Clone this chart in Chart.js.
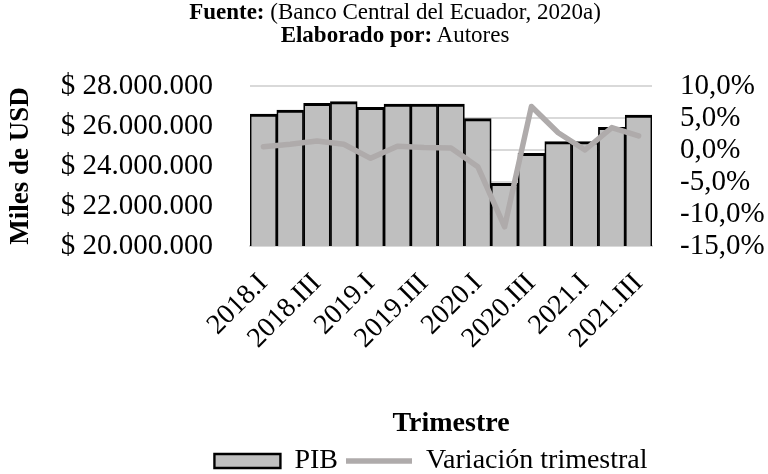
<!DOCTYPE html>
<html>
<head>
<meta charset="utf-8">
<script src="https://cdn.jsdelivr.net/npm/chart.js@4.4.0/dist/chart.umd.min.js"></script>
<style>
  html, body { margin: 0; padding: 0; background: #fff; }
  #wrap { position: relative; width: 768px; height: 474px; }
  #grafico { position: absolute; top: 0; left: 0; }
  #fuente {
    position: absolute; top: 0; left: 0; width: 768px;
    padding-left: 22px; box-sizing: border-box; text-align: center;
    font-family: 'Liberation Serif', serif; font-size: 23px; line-height: 23px; color: #000;
  }
</style>
</head>
<body>
<div id="wrap">
  <canvas id="grafico" width="768" height="474"></canvas>
  <div id="fuente"><b>Fuente:</b> (Banco Central del Ecuador, 2020a)<br><b>Elaborado por:</b> Autores</div>
</div>
<script>
// Trimestres del eje x
const trimestres = ['2018.I', '2018.II', '2018.III', '2018.IV',
                    '2019.I', '2019.II', '2019.III', '2019.IV',
                    '2020.I', '2020.II', '2020.III', '2020.IV',
                    '2021.I', '2021.II', '2021.III'];

// PIB en miles de USD
const pib = [26590000, 26800000, 27130000, 27220000,
             26930000, 27100000, 27100000, 27100000,
             26370000, 23130000, 24630000, 25220000,
             25220000, 25930000, 26550000];

// Variacion trimestral en %
const variacion = [0.5, 0.9, 1.4, 0.9,
                   -1.3, 0.6, 0.4, 0.3,
                   -2.6, -12.0, 6.8, 2.7,
                   0.0, 3.5, 2.2];

// Marcas de los ejes
const ticksPib = [20000000, 22000000, 24000000, 26000000, 28000000];
const ticksVariacion = [-15, -10, -5, 0, 5, 10];

const FUENTE = "'Liberation Serif', serif";
Chart.defaults.font.family = FUENTE;
Chart.defaults.color = '#000';

function formatoMiles(v) {
    return '$ ' + String(v).replace(/\B(?=(\d{3})+(?!\d))/g, '.');
}

function formatoPorcentaje(v) {
    return v.toFixed(1).replace('.', ',') + '%';
}

// la leyenda del original no esta centrada en el lienzo
const moverLeyenda = {
    id: 'moverLeyenda',
    afterLayout(chart) {
        const l = chart.legend;
        l.left += 47;
        l.right += 47;
        l.top += 11;
        l.bottom += 11;
    }
};

const canvas = document.getElementById('grafico');

new Chart(canvas, {
    type: 'bar',
    data: {
        labels: trimestres,
        datasets: [
            {
                label: 'PIB',
                data: pib,
                yAxisID: 'y',
                backgroundColor: '#bfbfbf',
                borderColor: '#000',
                borderWidth: { top: 3, left: 1.75, right: 1.75, bottom: 3 },
                barPercentage: 1,
                categoryPercentage: 1,
                pointStyle: 'rect',
                order: 2
            },
            {
                type: 'line',
                label: 'Variación trimestral',
                data: variacion,
                yAxisID: 'y1',
                borderColor: '#afabab',
                backgroundColor: '#afabab',
                borderWidth: 5.5,
                tension: 0,
                borderJoinStyle: 'round',
                borderCapStyle: 'round',
                pointRadius: 0,
                pointHoverRadius: 0,
                pointStyle: 'line',
                order: 1
            }
        ]
    },
    options: {
        responsive: false,
        animation: false,
        layout: {
            padding: { top: 86, left: 0, right: 0, bottom: 0 }
        },
        scales: {
            x: {
                grid: { display: false },
                border: { display: true, color: '#d9d9d9', width: 2 },
                ticks: {
                    autoSkip: false,
                    minRotation: 45,
                    maxRotation: 45,
                    padding: 13,
                    font: { family: FUENTE, size: 28 },
                    callback: function (val, i) {
                        return i % 2 === 0 ? this.getLabelForValue(val) : '';
                    }
                },
                title: {
                    display: true,
                    text: 'Trimestre',
                    font: { family: FUENTE, size: 28, weight: 'bold', lineHeight: 1 },
                    padding: { top: 0, bottom: -10 }
                },
                afterFit: function (scale) {
                    scale.height = 182;
                }
            },
            y: {
                position: 'left',
                min: ticksPib[0],
                max: ticksPib[ticksPib.length - 1],
                grid: { display: false, drawTicks: false },
                border: { display: false },
                ticks: {
                    stepSize: ticksPib[1] - ticksPib[0],
                    autoSkip: false,
                    padding: 37,
                    font: { family: FUENTE, size: 29, lineHeight: 1 },
                    callback: v => formatoMiles(v)
                },
                title: {
                    display: true,
                    text: 'Miles de USD',
                    font: { family: FUENTE, size: 27, weight: 'bold', lineHeight: 1 },
                    padding: { top: 8, bottom: 0 }
                },
                afterFit: function (scale) {
                    scale.width = 250;
                }
            },
            y1: {
                position: 'right',
                min: ticksVariacion[0],
                max: ticksVariacion[ticksVariacion.length - 1],
                grid: { display: true, color: '#d9d9d9', lineWidth: 2, drawTicks: false },
                border: { display: false },
                ticks: {
                    stepSize: ticksVariacion[1] - ticksVariacion[0],
                    autoSkip: false,
                    padding: 28,
                    font: { family: FUENTE, size: 29, lineHeight: 1 },
                    callback: v => formatoPorcentaje(v)
                },
                afterFit: function (scale) {
                    scale.width = 116;
                }
            }
        },
        plugins: {
            legend: {
                position: 'bottom',
                labels: {
                    usePointStyle: true,
                    pointStyleWidth: 66,
                    boxHeight: 14,
                    padding: 8,
                    font: { family: FUENTE, size: 28 },
                    color: '#000',
                    sort: (a, b) => a.datasetIndex - b.datasetIndex
                }
            },
            tooltip: { enabled: false }
        }
    },
    plugins: [moverLeyenda]
});
</script>
</body>
</html>
